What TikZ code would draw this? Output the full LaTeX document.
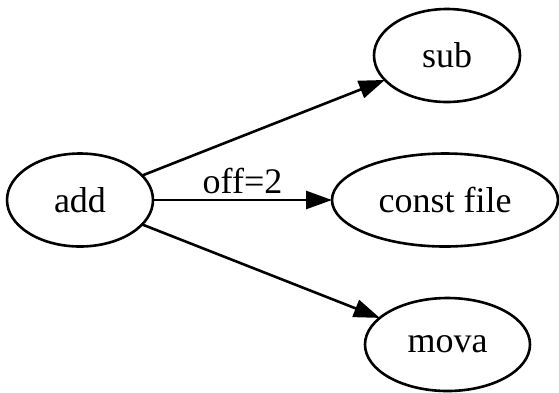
\documentclass[tikz,border=0pt]{standalone}
\usepackage{fontspec}
\setmainfont{Liberation Serif}
\usetikzlibrary{shapes.geometric,arrows.meta}
\begin{document}
\begin{tikzpicture}[x=1pt,y=-1pt,
  gnode/.style={ellipse,draw,line width=2.6pt,inner sep=0pt,outer sep=0pt,minimum height=93pt,
    font=\fontsize{36}{42}\selectfont},
  gedge/.style={line width=2.6pt,-{Triangle[length=26pt,width=18pt]},shorten >=0pt},
  elabel/.style={font=\fontsize{36}{42}\selectfont,inner sep=0pt}]
\useasboundingbox (0,0) rectangle (559,392);
\node[gnode,minimum width=146pt] (add) at (80,200) {add};
\node[gnode,minimum width=146pt] (sub) at (447,55.5) {sub};
\node[gnode,minimum width=226pt] (const) at (445,200) {const file};
\node[gnode,minimum width=165pt] (mova) at (447.5,344.5) {mova};
\draw[gedge] (add) -- (sub);
\draw[gedge] (add) -- node[elabel,midway,anchor=base,yshift=7pt] {off=2} (const);
\draw[gedge] (add) -- (mova);
\end{tikzpicture}
\end{document}
